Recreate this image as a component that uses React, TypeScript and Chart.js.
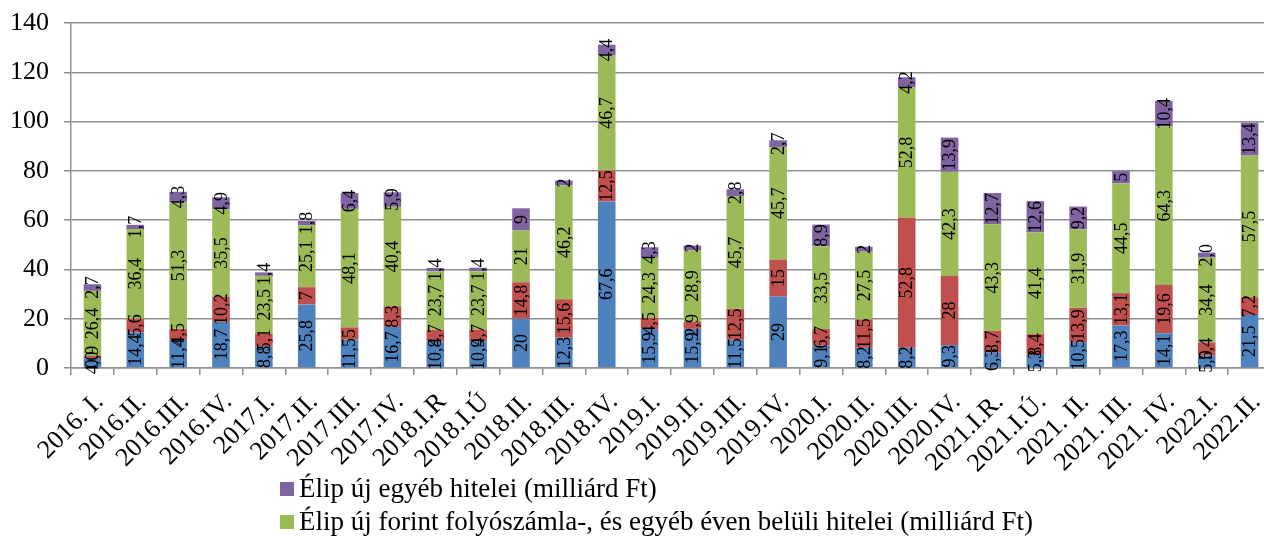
import React, { useEffect, useRef } from "react";
import { Chart, registerables } from "chart.js";

Chart.register(...registerables);

const categories = [
  "2016. I.", "2016.II.", "2016.III.", "2016.IV.",
  "2017.I.", "2017.II.", "2017.III.", "2017.IV.",
  "2018.I.R", "2018.I.Ú", "2018.II.", "2018.III.", "2018.IV.",
  "2019.I.", "2019.II.", "2019.III.", "2019.IV.",
  "2020.I.", "2020.II.", "2020.III.", "2020.IV.",
  "2021.I.R.", "2021.I.Ú.", "2021. II.", "2021. III.", "2021. IV.",
  "2022.I.", "2022.II.",
];

const blueValues = [4.0, 14.4, 11.4, 18.7, 8.8, 25.8, 11.5, 16.7, 10.8, 10.9, 20, 12.3, 67.6, 15.9, 15.9, 11.5, 29, 9.1, 8.2, 8.2, 9.3, 6.3, 5.3, 10.5, 17.3, 14.1, 5.0, 21.5];
const redValues = [0.9, 5.6, 4.5, 10.2, 5.1, 7, 5, 8.3, 4.7, 4.7, 14.8, 15.6, 12.5, 4.5, 2.9, 12.5, 15, 6.7, 11.5, 52.8, 28, 8.7, 8.4, 13.9, 13.1, 19.6, 5.4, 7.2];
const greenValues = [26.4, 36.4, 51.3, 35.5, 23.5, 25.1, 48.1, 40.4, 23.7, 23.7, 21, 46.2, 46.7, 24.3, 28.9, 45.7, 45.7, 33.5, 27.5, 52.8, 42.3, 43.3, 41.4, 31.9, 44.5, 64.3, 34.4, 57.5];
const purpleValues = [2.7, 1.7, 4.3, 4.9, 1.4, 1.8, 6.4, 5.9, 1.4, 1.4, 9, 2, 4.4, 4.3, 2, 2.8, 2.7, 8.9, 2, 4.2, 13.9, 12.7, 12.6, 9.2, 5, 10.4, 2.0, 13.4];

// labels shown with one decimal even when whole ("4,0", "5,0", "2,0")
const oneDecimalLabels = ["0:0", "26:0", "26:3"];

const seriesNames = [
  "Élip új forint hitelei (milliárd Ft)",
  "Élip új deviza hitelei (milliárd Ft)",
  "Élip új forint folyószámla-, és egyéb éven belüli hitelei (milliárd Ft)",
  "Élip új egyéb hitelei (milliárd Ft)",
];
const seriesColors = ["#4F81BD", "#C0504D", "#9BBB59", "#8064A2"];
const legendOrder = [3, 2];

const yMin = 0;
const yMax = 140;
const yStep = 20;

const FONT = "'Liberation Serif', 'Times New Roman', serif";
const GRID = "#8f8f8f";

const formatValue = (v: number, key: string) => {
  const s = oneDecimalLabels.includes(key) ? v.toFixed(1) : String(v);
  return s.replace(".", ",");
};

const valueLabelPlugin = {
  id: "valueLabels",
  afterDatasetsDraw(chart: any) {
    const ctx = chart.ctx;
    ctx.save();
    ctx.font = `18px ${FONT}`;
    ctx.fillStyle = "#000";
    ctx.textAlign = "center";
    ctx.textBaseline = "middle";
    chart.data.datasets.forEach((ds: any, di: number) => {
      const meta = chart.getDatasetMeta(di);
      meta.data.forEach((el: any, i: number) => {
        const { x, y, base } = el.getProps(["x", "y", "base"], true);
        const cy = (y + base) / 2;
        ctx.save();
        ctx.translate(x, cy);
        ctx.rotate(-Math.PI / 2);
        ctx.fillText(formatValue(ds.data[i], `${i}:${di}`), 0, 1);
        ctx.restore();
      });
    });
    ctx.restore();
  },
};

const legendPlugin = {
  id: "customLegend",
  afterDraw(chart: any) {
    const ctx = chart.ctx;
    ctx.save();
    ctx.font = `27px ${FONT}`;
    ctx.textBaseline = "middle";
    ctx.textAlign = "left";
    const x0 = 280;
    const y0 = 489;
    const lineGap = 33;
    legendOrder.forEach((si, row) => {
      const cy = y0 + row * lineGap;
      ctx.fillStyle = seriesColors[si];
      ctx.fillRect(x0, cy - 7, 14, 14);
      ctx.fillStyle = "#000";
      ctx.fillText(seriesNames[si], x0 + 19, cy + 1);
    });
    ctx.restore();
  },
};

export default function App() {
  const canvasRef = useRef<HTMLCanvasElement | null>(null);

  useEffect(() => {
    if (!canvasRef.current) return;
    const chart = new Chart(canvasRef.current, {
      type: "bar",
      data: {
        labels: categories,
        datasets: [blueValues, redValues, greenValues, purpleValues].map((d, i) => ({
          label: seriesNames[i],
          data: d,
          backgroundColor: seriesColors[i],
          borderWidth: 0,
          categoryPercentage: 1,
          barPercentage: 0.41,
        })),
      },
      options: {
        responsive: false,
        animation: false,
        layout: { padding: { top: 23, right: 5, left: 0, bottom: 0 } },
        plugins: {
          legend: { display: false },
          tooltip: { enabled: false },
        },
        scales: {
          x: {
            stacked: true,
            offset: true,
            grid: {
              display: true,
              offset: true,
              drawOnChartArea: false,
              tickLength: 7,
              color: GRID,
              lineWidth: 1.5,
            },
            border: { color: GRID, width: 1.5 },
            ticks: {
              autoSkip: false,
              maxRotation: 45,
              minRotation: 45,
              color: "#000",
              font: { family: FONT, size: 26 },
              padding: 12,
              labelOffset: 7,
            },
            afterFit: (scale: any) => {
              scale.height = 168;
              scale.paddingLeft = 0;
              scale.paddingRight = 0;
            },
          },
          y: {
            stacked: true,
            min: yMin,
            max: yMax,
            ticks: {
              stepSize: yStep,
              color: "#000",
              font: { family: FONT, size: 26 },
              padding: 15,
            },
            grid: { color: GRID, lineWidth: 1.5, tickLength: 7 },
            border: { color: GRID, width: 1.5 },
            afterFit: (scale: any) => {
              scale.width = 71;
              scale.paddingTop = 0;
              scale.paddingBottom = 0;
            },
          },
        },
      },
      plugins: [valueLabelPlugin, legendPlugin],
    });
    return () => chart.destroy();
  }, []);

  return (
    <div
      style={{
        position: "fixed",
        left: 0,
        top: 0,
        width: 1264,
        height: 536,
        overflow: "hidden",
        background: "#fff",
      }}
    >
      <canvas ref={canvasRef} width={1276} height={536} style={{ display: "block" }} />
    </div>
  );
}
